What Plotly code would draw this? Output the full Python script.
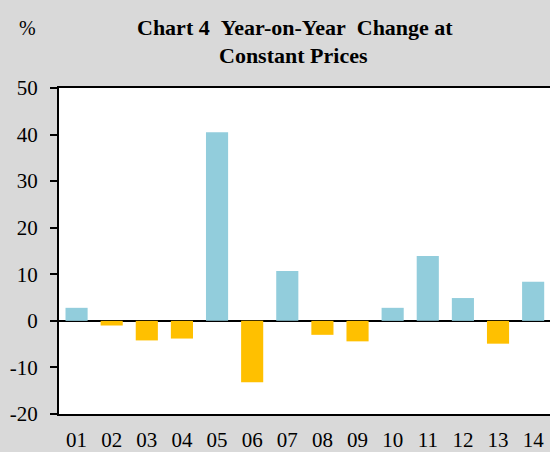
import plotly.graph_objects as go

categories = ["01", "02", "03", "04", "05", "06", "07", "08", "09", "10", "11", "12", "13", "14"]
values = [2.8, -1.0, -4.2, -3.8, 40.5, -13.2, 10.7, -3.0, -4.4, 2.8, 13.9, 4.9, -4.9, 8.4]
y_ticks = [-20, -10, 0, 10, 20, 30, 40, 50]
y_tick_text = ["-20", "-10", "0", "10", "20", "30", "40", "50"]

POS = "#92cddc"
NEG = "#ffc000"
colors = [POS if v >= 0 else NEG for v in values]

W, H = 550, 452
L, R, T, B = 59, 0, 88, 38
PW, PH = W - L - R, H - T - B
FONT = "Liberation Serif"
NB = "\u00a0"

fig = go.Figure()
fig.add_trace(go.Bar(x=categories, y=values, marker=dict(color=colors, line=dict(width=0)),
                     hoverinfo="skip"))

fig.update_layout(
    width=W, height=H,
    margin=dict(l=L, r=R, t=T, b=B, autoexpand=False),
    paper_bgcolor="#d9d9d9",
    plot_bgcolor="#ffffff",
    bargap=0.37,
    showlegend=False,
    hovermode=False,
    font=dict(family=FONT, size=21, color="#000000"),
)

fig.update_xaxes(
    type="category",
    range=[-0.5, 13.48],
    automargin=False,
    showline=True, linecolor="#000000", linewidth=2, mirror=True,
    ticks="", showgrid=False,
    tickfont=dict(family=FONT, size=21),
    ticklabelstandoff=6,
)
fig.update_yaxes(
    range=[-20, 50],
    automargin=False,
    tickvals=y_ticks, ticktext=y_tick_text,
    showline=True, linecolor="#000000", linewidth=2,
    ticks="outside", ticklen=7, tickwidth=2, tickcolor="#000000",
    showgrid=False,
    zeroline=True, zerolinecolor="#000000", zerolinewidth=2,
    tickfont=dict(family=FONT, size=21),
    ticklabelstandoff=8,
)

def px_to_paper(px, py):
    return (px - L) / PW, (H - B - py) / PH

tx, ty1 = px_to_paper(295, 28)
_, ty2 = px_to_paper(293, 56)
fig.add_annotation(text=f"<b>Chart 4{NB}{NB}Year-on-Year{NB}{NB}Change at</b>",
                   xref="paper", yref="paper", x=tx, y=ty1,
                   xanchor="center", yanchor="middle", showarrow=False,
                   font=dict(family=FONT, size=22, color="#000000"))
fig.add_annotation(text="<b>Constant Prices</b>",
                   xref="paper", yref="paper", x=(293 - L) / PW, y=ty2,
                   xanchor="center", yanchor="middle", showarrow=False,
                   font=dict(family=FONT, size=22, color="#000000"))

px, py = px_to_paper(27, 28)
fig.add_annotation(text="%", xref="paper", yref="paper", x=px, y=py,
                   xanchor="center", yanchor="middle", showarrow=False,
                   font=dict(family=FONT, size=20, color="#000000"))

fig.write_html("out.html",
               config={"displayModeBar": False, "staticPlot": True},
               post_script="document.body.style.margin='0';document.body.style.padding='0';"
                           "document.body.style.overflow='hidden';")
